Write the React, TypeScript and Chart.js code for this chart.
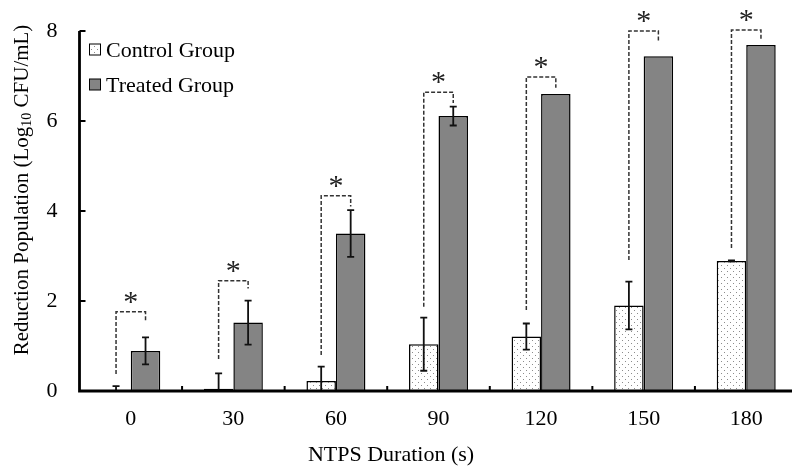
import React, { useEffect, useRef } from "react";
import { Chart, registerables } from "chart.js";

Chart.register(...registerables);

const categories = ["0", "30", "60", "90", "120", "150", "180"];
const controlValues = [0, 0.05, 0.22, 1.04, 1.21, 1.9, 2.89];
const controlErrors = [0.11, 0.34, 0.32, 0.59, 0.29, 0.53, 0.01];
const treatedValues = [0.89, 1.52, 3.5, 6.11, 6.6, 7.44, 7.69];
const treatedErrors = [0.3, 0.49, 0.52, 0.21, 0, 0, 0];
// significance brackets (data units)
const bracketControlBase = [0.38, 0.71, 0.8, 1.87, 1.8, 2.91, 3.18];
const bracketTop = [1.76, 2.45, 4.34, 6.64, 6.98, 8.0, 8.02];
const bracketTreatedBase = [1.54, 2.28, 4.1, 6.4, 6.74, 7.78, 7.8];
const yTickValues = [0, 2, 4, 6, 8];
const legendLabels = ["Control Group", "Treated Group"];
const xTitle = "NTPS Duration (s)";
const yTitleParts = ["Reduction Population (Log", "10", " CFU/mL)"];

const FONT = "'Liberation Serif', 'Times New Roman', serif";

function makeDotPattern(): CanvasPattern | string {
  const c = document.createElement("canvas");
  c.width = 6;
  c.height = 6;
  const ctx = c.getContext("2d");
  if (!ctx) return "#fff";
  ctx.fillStyle = "#ffffff";
  ctx.fillRect(0, 0, 6, 6);
  ctx.fillStyle = "#8c8c8c";
  ctx.fillRect(1, 1, 1, 1);
  ctx.fillRect(4, 4, 1, 1);
  const p = ctx.createPattern(c, "repeat");
  return p || "#fff";
}

export default function App() {
  const ref = useRef<HTMLCanvasElement | null>(null);

  useEffect(() => {
    document.body.style.margin = "0";
    document.body.style.overflow = "hidden";
    const canvas = ref.current;
    if (!canvas) return;
    const dots = makeDotPattern();

    const overlay = {
      id: "overlay",
      afterDatasetsDraw(chart: any) {
        const ctx = chart.ctx as CanvasRenderingContext2D;
        const y = chart.scales.y;
        const x = chart.scales.x;
        const area = chart.chartArea;
        const m0 = chart.getDatasetMeta(0);
        const m1 = chart.getDatasetMeta(1);
        ctx.save();
        // error bars
        const drawErr = (bx: number, v: number, e: number) => {
          if (e <= 0) return;
          const top = y.getPixelForValue(v + e);
          const bot = y.getPixelForValue(Math.max(0, v - e));
          ctx.strokeStyle = "#111";
          ctx.lineWidth = 1.8;
          ctx.beginPath();
          ctx.moveTo(bx, top);
          ctx.lineTo(bx, bot);
          ctx.moveTo(bx - 3.5, top);
          ctx.lineTo(bx + 3.5, top);
          if (v - e > 0) {
            ctx.moveTo(bx - 3.5, bot);
            ctx.lineTo(bx + 3.5, bot);
          }
          ctx.stroke();
        };
        categories.forEach((_, i) => {
          drawErr(m0.data[i].x, controlValues[i], controlErrors[i]);
          drawErr(m1.data[i].x, treatedValues[i], treatedErrors[i]);
        });
        // brackets
        ctx.strokeStyle = "#333";
        ctx.lineWidth = 1.5;
        ctx.setLineDash([4, 2]);
        categories.forEach((_, i) => {
          const lx = m0.data[i].x;
          const rx = m1.data[i].x;
          const ty = y.getPixelForValue(bracketTop[i]);
          ctx.beginPath();
          ctx.moveTo(lx, y.getPixelForValue(bracketControlBase[i]));
          ctx.lineTo(lx, ty);
          ctx.lineTo(rx, ty);
          ctx.lineTo(rx, y.getPixelForValue(bracketTreatedBase[i]));
          ctx.stroke();
        });
        ctx.setLineDash([]);
        ctx.fillStyle = "#222";
        ctx.font = `30px ${FONT}`;
        ctx.textAlign = "center";
        ctx.textBaseline = "alphabetic";
        categories.forEach((_, i) => {
          const cx = (m0.data[i].x + m1.data[i].x) / 2;
          const ty = y.getPixelForValue(bracketTop[i]);
          ctx.fillText("*", cx, ty - 1);
        });
        // axes
        ctx.strokeStyle = "#000";
        ctx.lineWidth = 2.8;
        ctx.beginPath();
        ctx.moveTo(area.left, area.top);
        ctx.lineTo(area.left, area.bottom);
        ctx.moveTo(area.left - 1.4, area.bottom);
        ctx.lineTo(chart.width, area.bottom);
        ctx.stroke();
        // inward ticks
        ctx.lineWidth = 2;
        ctx.beginPath();
        yTickValues.forEach((v) => {
          const py = y.getPixelForValue(v);
          ctx.moveTo(area.left, py);
          ctx.lineTo(area.left + 6, py);
        });
        for (let i = 1; i < categories.length; i++) {
          const px = (x.getPixelForValue(i - 1) + x.getPixelForValue(i)) / 2;
          ctx.moveTo(px, area.bottom);
          ctx.lineTo(px, area.bottom - 5);
        }
        ctx.stroke();
        // legend
        const lgY = [50, 85];
        const fills = [dots, "#848484"];
        ctx.lineWidth = 1;
        ctx.font = `22px ${FONT}`;
        ctx.textAlign = "left";
        ctx.textBaseline = "middle";
        legendLabels.forEach((lab, k) => {
          ctx.fillStyle = fills[k] as any;
          ctx.fillRect(89.5, lgY[k] - 6, 11, 11);
          ctx.strokeStyle = "#000";
          ctx.strokeRect(89.5, lgY[k] - 6, 11, 11);
          ctx.fillStyle = "#000";
          ctx.fillText(lab, 106, lgY[k] + 1);
        });
        // x title
        ctx.textAlign = "center";
        ctx.fillText(xTitle, 391, 455);
        // y title with subscript
        ctx.save();
        ctx.translate(22, 190);
        ctx.rotate(-Math.PI / 2);
        const big = `21px ${FONT}`;
        const small = `14px ${FONT}`;
        ctx.font = big;
        const w1 = ctx.measureText(yTitleParts[0]).width;
        const w3 = ctx.measureText(yTitleParts[2]).width;
        ctx.font = small;
        const w2 = ctx.measureText(yTitleParts[1]).width;
        const total = w1 + w2 + w3;
        let sx = -total / 2;
        ctx.textAlign = "left";
        ctx.textBaseline = "middle";
        ctx.font = big;
        ctx.fillText(yTitleParts[0], sx, 0);
        sx += w1;
        ctx.font = small;
        ctx.fillText(yTitleParts[1], sx, 5);
        sx += w2;
        ctx.font = big;
        ctx.fillText(yTitleParts[2], sx, 0);
        ctx.restore();
        ctx.restore();
      },
    };

    const chart = new Chart(canvas, {
      type: "bar",
      data: {
        labels: categories,
        datasets: [
          {
            label: legendLabels[0],
            data: controlValues,
            backgroundColor: dots as any,
            borderColor: "#000",
            borderWidth: 1.5,
            borderSkipped: "bottom",
          },
          {
            label: legendLabels[1],
            data: treatedValues,
            backgroundColor: "#848484",
            borderColor: "#000",
            borderWidth: 1.5,
            borderSkipped: "bottom",
          },
        ],
      },
      options: {
        responsive: false,
        animation: false,
        datasets: { bar: { categoryPercentage: 0.575, barPercentage: 1 } } as any,
        layout: { padding: { left: 0, top: 31, right: 2.5, bottom: 0 } },
        plugins: { legend: { display: false }, tooltip: { enabled: false } },
        scales: {
          x: {
            grid: { display: false, drawTicks: false },
            border: { display: false },
            ticks: { color: "#000", font: { family: FONT, size: 22 }, padding: 15, maxRotation: 0 },
            afterFit: (s: any) => {
              s.height = 75;
              s.paddingLeft = 0;
              s.paddingRight = 0;
            },
          },
          y: {
            min: 0,
            max: 8,
            grid: { display: false, drawTicks: false },
            border: { display: false },
            ticks: { stepSize: 2, color: "#000", font: { family: FONT, size: 22 }, padding: 22 },
            afterFit: (s: any) => {
              s.width = 79.5;
              s.paddingTop = 0;
              s.paddingBottom = 0;
            },
          },
        },
      },
      plugins: [overlay],
    });
    return () => chart.destroy();
  }, []);

  return <canvas ref={ref} width={800} height={466} style={{ display: "block" }} />;
}
